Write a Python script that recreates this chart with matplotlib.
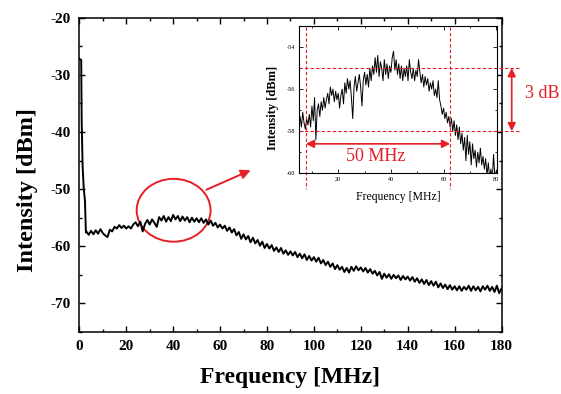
import numpy as np
import matplotlib
matplotlib.use("Agg")
import matplotlib.pyplot as plt
from matplotlib.patches import Ellipse
from matplotlib.ticker import MultipleLocator

plt.rcParams['font.family'] = ['Liberation Serif', 'DejaVu Serif']
plt.rcParams['axes.unicode_minus'] = False

# === Data: full spectrum ===
freq_start = [0.0, 0.8, 1.0, 1.4, 1.9, 2.4, 2.8]
level_start = [-27.2, -27.4, -38.0, -46.0, -50.0, -52.0, -57.6]

freq_main = np.arange(3, 181)
level_main = [
    -57.4, -58.0, -57.3, -57.9, -57.2, -57.8, -57.0, -57.7,
    -58.1, -58.4, -57.1, -57.4, -56.6, -56.9, -56.3, -56.8, -56.4, -56.9,
    -56.5, -56.9, -56.2, -55.8, -56.5, -55.7, -57.4, -56.1, -55.4, -56.2,
    -55.3, -55.9, -56.6, -54.9, -55.5, -54.7, -55.7, -54.9, -55.6, -54.5,
    -55.3, -54.7, -55.6, -54.8, -55.5, -54.9, -55.8, -55.0, -55.7, -55.1,
    -55.8, -55.1, -55.9, -55.3, -56.2, -55.5, -56.4, -55.9, -56.7, -56.2,
    -56.9, -56.4, -57.3, -56.7, -57.6, -57.0, -58.1, -57.5, -58.7, -57.9,
    -58.8, -58.2, -59.3, -58.5, -59.5, -58.9, -59.9, -59.2, -60.3, -59.6,
    -60.4, -59.8, -60.8, -60.2, -61.0, -60.3, -61.3, -60.7, -61.5, -60.9,
    -61.6, -61.0, -61.9, -61.3, -62.1, -61.4, -62.4, -61.7, -62.5, -61.9,
    -62.7, -62.0, -63.0, -62.4, -63.3, -62.7, -63.6, -63.0, -64.0, -63.3,
    -64.1, -63.6, -64.5, -63.8, -64.6, -63.6, -64.3, -63.5, -64.2, -63.7,
    -64.4, -63.8, -64.6, -64.0, -64.8, -64.3, -65.1, -64.5, -65.7, -64.8,
    -65.5, -64.9, -65.7, -65.0, -65.6, -65.1, -65.9, -65.2, -65.8, -65.3,
    -66.0, -65.4, -66.2, -65.6, -66.4, -65.8, -66.6, -65.9, -66.8, -66.1,
    -66.9, -66.2, -67.2, -66.5, -67.3, -66.7, -67.5, -66.8, -67.6, -67.0,
    -67.7, -67.0, -67.8, -67.1, -67.6, -66.9, -67.8, -67.0, -67.7, -67.1,
    -67.9, -67.0, -67.6, -66.9, -67.8, -67.1, -68.0, -66.9, -68.2, -67.4,
]

# === Data: zoomed spectrum (inset) ===
freq_zoom = np.arange(5.5, 80.01, 0.5)
level_zoom = [
    -57.3, -57.8, -57.1, -57.6, -57.9, -57.4, -57.7, -57.2, -57.8, -56.8,
    -57.5, -56.4, -58.4, -57.0, -56.7, -57.3, -56.6, -57.0, -56.4, -56.9,
    -56.5, -56.2, -56.7, -55.9, -56.3, -56.0, -56.6, -56.1, -56.5, -56.2,
    -56.9, -56.3, -56.0, -56.7, -55.7, -56.2, -55.5, -56.0, -55.6, -56.4,
    -57.4, -55.9, -55.4, -56.1, -55.7, -55.3, -55.9, -56.8, -55.6, -55.2,
    -55.8, -55.3, -55.9, -55.0, -55.6, -54.9, -55.3, -54.5, -55.2, -54.4,
    -55.4, -54.7, -55.0, -55.6, -54.6, -55.3, -54.8, -55.5, -54.9, -55.2,
    -54.5, -54.2, -55.1, -54.6, -55.3, -54.8, -55.5, -54.9, -55.6, -55.0,
    -55.4, -54.9, -55.6, -54.6, -55.2, -55.5, -55.0, -55.6, -55.1, -55.4,
    -54.6, -55.2, -55.7, -55.3, -55.9, -55.4, -55.8, -55.5, -56.1, -55.7,
    -56.0, -55.6, -56.3, -56.0, -56.4, -55.6, -56.5, -56.8, -57.2, -56.9,
    -57.4, -57.1, -57.6, -57.3, -57.8, -57.4, -58.0, -57.5, -58.2, -57.7,
    -58.4, -57.8, -58.6, -58.1, -58.9, -58.3, -59.4, -58.2, -59.1, -58.5,
    -59.6, -58.6, -59.3, -58.9, -59.7, -59.0, -59.5, -58.8, -59.6, -59.2,
    -59.8, -59.3, -60.1, -59.5, -60.2, -59.8, -60.3, -59.1, -60.2, -59.9,
]

# bandwidth markers
f_low, f_high = 7.7, 62.5
lvl_top, lvl_bottom = -55.0, -58.0

red = '#e61e25'

fig = plt.figure(figsize=(5.61, 3.94), dpi=100)

# === Main axes ===
ax = fig.add_axes([0.1414, 0.1574, 0.7526, 0.7977])
ax.plot(list(freq_start) + list(freq_main), level_start + level_main,
        color='black', lw=1.4)
ax.set_xlim(0, 180)
ax.set_ylim(-75, -20)
ax.xaxis.set_major_locator(MultipleLocator(20))
ax.xaxis.set_minor_locator(MultipleLocator(10))
ax.yaxis.set_major_locator(MultipleLocator(10))
ax.yaxis.set_minor_locator(MultipleLocator(5))
ax.tick_params(which='both', direction='in', top=True, right=True, width=1.0)
ax.tick_params(which='major', length=4, labelsize=11, pad=6)
ax.tick_params(which='minor', length=2.5)
for lab in ax.get_xticklabels() + ax.get_yticklabels():
    lab.set_fontweight('bold')
for sp in ax.spines.values():
    sp.set_linewidth(1.1)
ax.set_xlabel('Frequency [MHz]', fontsize=17, fontweight='bold', labelpad=10)
ax.set_ylabel('Intensity [dBm]', fontsize=17.5, fontweight='bold')
ax.yaxis.set_label_coords(-0.098, 0.453)

ax.add_patch(Ellipse((40.2, -53.7), 31.5, 11.0, fill=False, edgecolor=red, lw=1.4))
ax.annotate('', xy=(74.1, -46.5), xytext=(53.1, -50.3),
            arrowprops=dict(arrowstyle='-|>', color=red, lw=1.4, mutation_scale=14))

# === Inset ===
axi = fig.add_axes([0.5335, 0.5601, 0.3524, 0.3739])
axi.plot(freq_zoom, level_zoom, color='black', lw=0.7)
axi.set_xlim(5.2, 80.3)
axi.set_ylim(-60, -53)
axi.xaxis.set_major_locator(MultipleLocator(20))
axi.xaxis.set_minor_locator(MultipleLocator(10))
axi.yaxis.set_major_locator(MultipleLocator(2))
axi.yaxis.set_minor_locator(MultipleLocator(1))
axi.tick_params(which='both', direction='in', top=True, right=True, width=0.6)
axi.tick_params(which='major', length=3, labelsize=4.5, pad=3)
axi.tick_params(which='minor', length=1.5)
for sp in axi.spines.values():
    sp.set_linewidth(0.8)
axi.set_xlabel('Frequency [MHz]', fontsize=8.5, labelpad=6)
axi.set_ylabel('Intensity [dBm]', fontsize=9, fontweight='bold')
axi.yaxis.set_label_coords(-0.103, 0.447)

dash = (0, (3, 2))
for f in (f_low, f_high):
    axi.plot([f, f], [-53.05, -60.75], color=red, lw=0.8, ls=dash, clip_on=False)
for lv in (lvl_top, lvl_bottom):
    axi.plot([5.2, 88.7], [lv, lv], color=red, lw=0.8, ls=dash, clip_on=False)

axi.annotate('', xy=(f_low, -58.6), xytext=(f_high, -58.6),
             arrowprops=dict(arrowstyle='<|-|>', color=red, lw=1.2, mutation_scale=12,
                             shrinkA=0, shrinkB=0))
axi.text((f_low + f_high) / 2 - 0.9, -59.2, '50 MHz', color=red, fontsize=13,
         ha='center', va='center')

axi.annotate('', xy=(85.9, lvl_top), xytext=(85.9, lvl_bottom),
             arrowprops=dict(arrowstyle='<|-|>', color=red, lw=1.2, mutation_scale=12,
                             shrinkA=0, shrinkB=0), annotation_clip=False)
axi.text(91.0, -56.2, '3 dB', color=red, fontsize=13, ha='left', va='center',
         clip_on=False)

fig.savefig('out.png', dpi=100)
